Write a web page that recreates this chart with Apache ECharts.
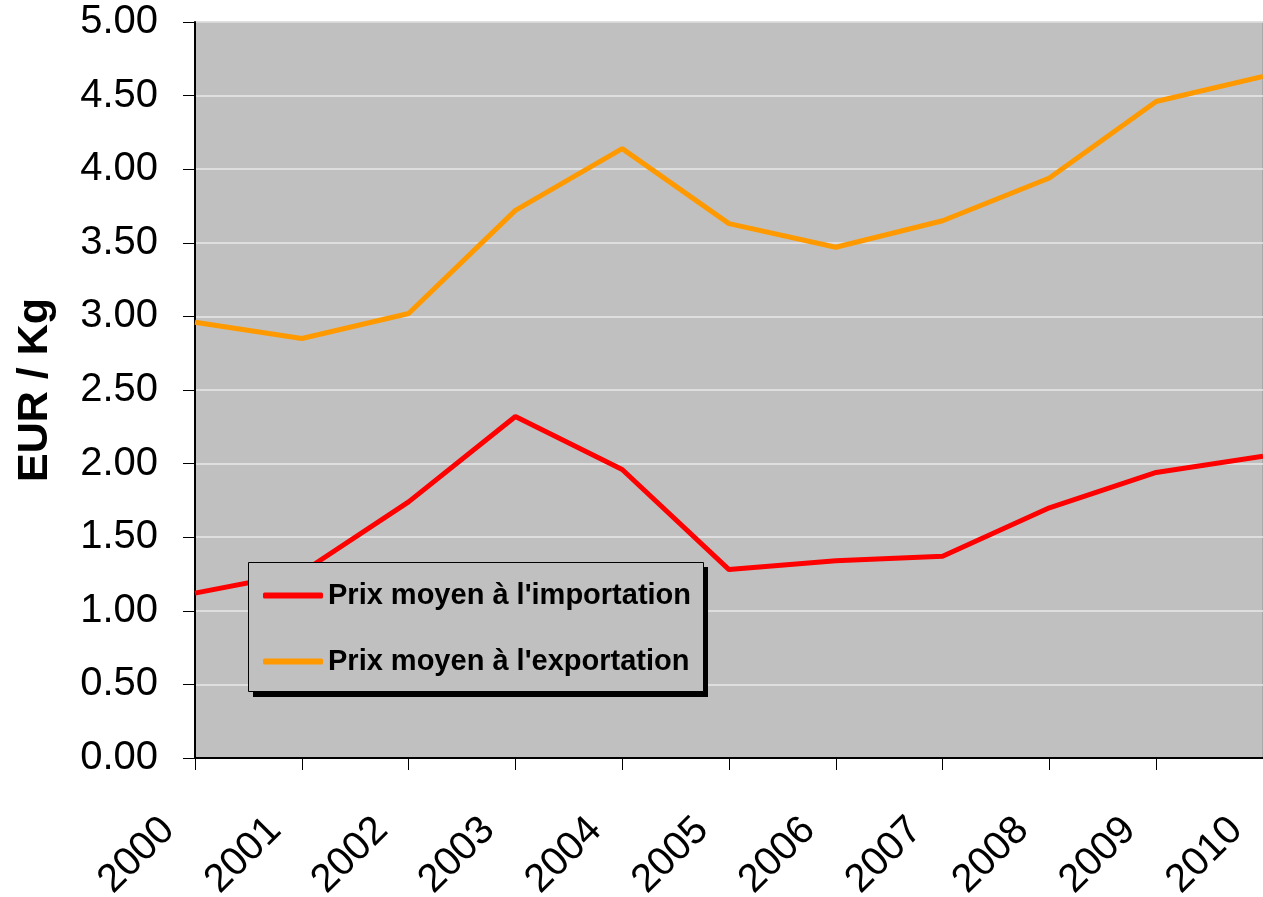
<!DOCTYPE html>
<html>
<head>
<meta charset="utf-8">
<script src="https://cdn.jsdelivr.net/npm/echarts@6/dist/echarts.min.js"></script>
<style>
html,body{margin:0;padding:0;background:#fff;}
#chart{width:1263px;height:897px;}
</style>
</head>
<body>
<div id="chart"></div>
<script>
const years = ['2000','2001','2002','2003','2004','2005','2006','2007','2008','2009','2010'];
const importPrice = [1.12, 1.26, 1.74, 2.32, 1.96, 1.28, 1.34, 1.37, 1.70, 1.94, 2.05];
const exportPrice = [2.96, 2.85, 3.02, 3.72, 4.14, 3.63, 3.47, 3.65, 3.94, 4.46, 4.63];
const importName = "Prix moyen à l'importation";
const exportName = "Prix moyen à l'exportation";
const yAxisName = 'EUR / Kg';

const chart = echarts.init(document.getElementById('chart'));
const font = '"Liberation Sans", Arial, sans-serif';
chart.setOption({
  animation: false,
  grid: {
    left: 195, right: 0, top: 22, bottom: 139,
    outerBoundsMode: 'none',
    containLabel: false,
    show: true, backgroundColor: '#C0C0C0', borderColor: '#909090', borderWidth: 1
  },
  graphic: [
    { type: 'rect', z: 5, silent: true, shape: { x: 253, y: 567, width: 455, height: 130 }, style: { fill: '#000' } },
    { type: 'rect', z: 6, silent: true, shape: { x: 248.5, y: 562.5, width: 455, height: 129 }, style: { fill: '#C0C0C0', stroke: '#000', lineWidth: 1 } }
  ],
  legend: {
    orient: 'vertical',
    left: 248, top: 562,
    z: 10,
    padding: [19, 13, 18, 15],
    itemGap: 37,
    itemWidth: 60, itemHeight: 6,
    icon: 'roundRect',
    textStyle: { fontFamily: font, fontSize: 29, fontWeight: 'bold', color: '#000' },
    data: [importName, exportName]
  },
  xAxis: {
    type: 'category',
    data: years,
    boundaryGap: false,
    axisLine: { lineStyle: { color: '#000', width: 2 } },
    axisTick: { show: true, length: 12, alignWithLabel: true, lineStyle: { color: '#000', width: 1 } },
    axisLabel: { rotate: 45, margin: 39, padding: [0, 38, 0, 0], fontFamily: font, fontSize: 40, color: '#000', interval: 0 },
    splitLine: { show: false }
  },
  yAxis: {
    type: 'value',
    min: 0, max: 5, interval: 0.5,
    name: yAxisName,
    nameLocation: 'middle',
    nameGap: 138,
    nameTextStyle: { fontFamily: font, fontSize: 43, fontWeight: 'bold', color: '#000' },
    axisLine: { show: true, lineStyle: { color: '#000', width: 2 } },
    axisTick: { show: true, length: 12, lineStyle: { color: '#000', width: 1 } },
    axisLabel: { margin: 37, fontFamily: font, fontSize: 40, color: '#000', formatter: v => v.toFixed(2) },
    splitLine: { show: true, lineStyle: { color: '#E8E8E8', width: 1.5 } }
  },
  series: [
    { name: importName, type: 'line', data: importPrice, symbol: 'none',
      lineStyle: { color: '#FF0000', width: 5 }, itemStyle: { color: '#FF0000' } },
    { name: exportName, type: 'line', data: exportPrice, symbol: 'none',
      lineStyle: { color: '#FF9900', width: 5 }, itemStyle: { color: '#FF9900' } }
  ]
});
</script>
</body>
</html>
